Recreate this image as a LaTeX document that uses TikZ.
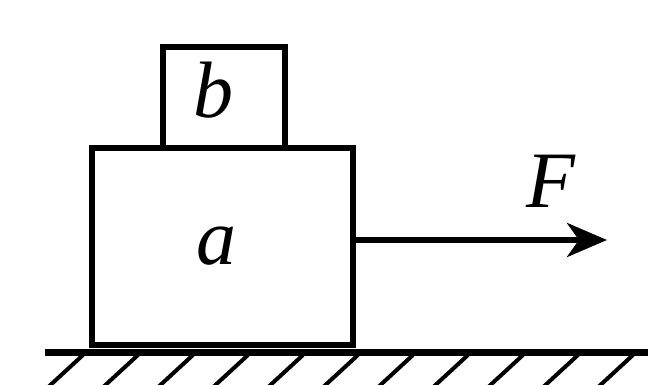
\documentclass[tikz,border=0pt]{standalone}
\usepackage{fontspec}
\setmainfont{Liberation Serif}
\usetikzlibrary{arrows.meta}
\tikzset{
  block/.style={draw, line width=3pt, inner sep=0pt, outer sep=0pt},
  lbl/.style={font=\fontsize{40}{40}\selectfont\itshape, inner sep=0pt},
  force/.style={line width=3pt, -{Stealth[length=20pt,width=17pt,inset=6pt]}},
  hatch/.style={line width=2pt}
}
\begin{document}
\begin{tikzpicture}[x=0.5pt,y=-0.5pt]
  \useasboundingbox (0,0) rectangle (653,385);
  % blocks
  \node[block, minimum width=130.5pt, minimum height=98.5pt] (a) at (222.5,246.5) {};
  \node[block, minimum width=61pt, minimum height=50.5pt] (b) at (224,97.5) {};
  \node[lbl] (la) at (216,246) {a};
  \node[lbl] (lb) at (213,90) {b};
  % ground
  \draw[line width=3.5pt] (45,352) -- (648,352);
  \begin{scope}
    \clip (0,354) rectangle (653,385);
    \foreach \x in {0,...,10}
      \draw[hatch] (83+55*\x,355) -- (45+55*\x,390);
  \end{scope}
  % force
  \coordinate (Ftip) at (607,240);
  \draw[force] (a.east |- Ftip) -- (Ftip);
  \node[lbl] (F) at (551,181) {F};
\end{tikzpicture}
\end{document}
